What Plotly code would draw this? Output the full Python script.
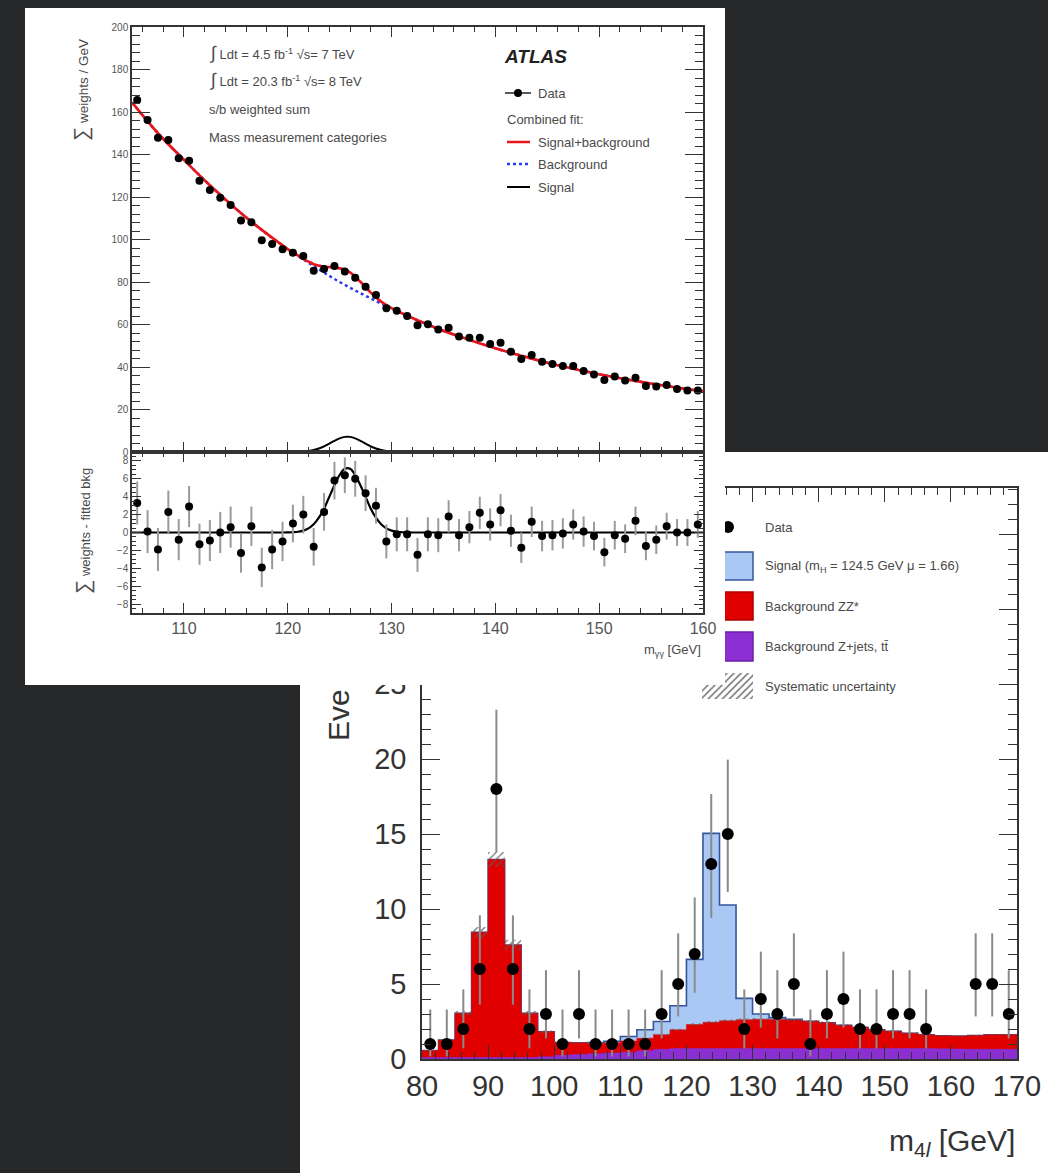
import plotly.graph_objects as go

W, H = 1048, 1173
FONT = "Liberation Sans, Arial, Helvetica, sans-serif"
PAGE_BG = "#262728"
INK = "#333333"
TXT = "#4a4a4a"


def fx(x):
    return x / W


def fy(y):
    return 1 - y / H


# ================= diphoton panel (top card) =================
MGG_CENTERS = [105.5 + i for i in range(55)]
MGG_WEIGHTS = [165.6, 156.2, 147.9, 146.8, 138.2, 137.1, 127.7, 123.3, 119.7, 116.2,
               108.9, 108.1, 99.7, 97.9, 95.4, 93.8, 92.2, 85.3, 86.1, 87.5,
               84.9, 82.0, 77.8, 73.9, 67.6, 66.5, 64.0, 59.7, 60.1, 57.7,
               58.5, 54.3, 53.8, 53.8, 50.8, 51.4, 47.2, 43.8, 45.6, 42.5,
               41.4, 40.5, 40.5, 38.1, 36.5, 33.9, 35.5, 33.6, 35.0, 31.1,
               30.8, 31.5, 29.6, 28.9, 28.9]
MGG_EXCESS = [3.3, 0.1, -1.9, 2.3, -0.8, 2.9, -1.3, -0.9, 0.0, 0.6,
              -2.3, 0.7, -3.9, -1.9, -1.0, 1.0, 2.0, -1.6, 2.3, 5.8,
              6.4, 6.0, 4.4, 3.0, -1.0, -0.2, -0.2, -2.5, -0.2, -0.3,
              1.8, -0.3, 0.6, 2.2, 0.9, 2.5, 0.2, -1.7, 1.2, -0.4,
              -0.3, -0.1, 0.9, 0.1, -0.4, -2.2, -0.3, -0.7, 1.3, -1.5,
              -0.8, 0.7, 0.0, 0.0, 0.9]
MGG_EXCESS_ERR = [2.4, 2.4, 2.4, 2.4, 2.3, 2.3, 2.3, 2.3, 2.3, 2.3, 2.2,
                  2.2, 2.2, 2.2, 2.2, 2.1, 2.1, 2.1, 2.1, 2.1, 2.0, 2.0,
                  2.0, 2.0, 1.9, 1.9, 1.9, 1.9, 1.9, 1.9, 1.8, 1.8, 1.8,
                  1.8, 1.8, 1.8, 1.8, 1.7, 1.7, 1.7, 1.7, 1.7, 1.7, 1.7,
                  1.6, 1.6, 1.6, 1.6, 1.6, 1.6, 1.6, 1.5, 1.5, 1.5, 1.5]

FIT_BKG_X = [105, 107.5, 110, 112.5, 115, 117.5, 120, 122.5, 125, 127.5, 130,
             132.5, 135, 137.5, 140, 142.5, 145, 147.5, 150, 152.5, 155, 157.5, 160]
FIT_BKG_Y = [164.5, 150.0, 137.5, 125.5, 114.5, 104.5, 95.5, 87.5, 80.0, 73.5, 67.5,
             62.0, 57.0, 52.8, 48.8, 45.3, 42.0, 39.2, 36.6, 34.3, 32.2, 30.3, 28.6]

FIT_SB_X = [105, 107.5, 110, 112.5, 115, 117.5, 120,
            120.5, 121, 121.5, 122, 122.5, 123, 123.5, 124, 124.5, 125, 125.5,
            126, 126.5, 127, 127.5, 128, 128.5, 129, 129.5, 130, 130.5, 131,
            132.5, 135, 137.5, 140, 142.5, 145, 147.5, 150, 152.5, 155, 157.5, 160]
FIT_SB_Y = [164.5, 150.0, 137.5, 125.5, 114.5, 104.5, 95.5,
            93.9, 92.4, 90.9, 89.6, 88.4, 87.7, 87.2, 87.0, 86.8, 86.4, 85.8,
            84.5, 82.5, 80.1, 77.5, 75.0, 72.8, 70.8, 69.2, 67.7, 66.5, 65.3,
            62.0, 57.0, 52.8, 48.8, 45.3, 42.0, 39.2, 36.6, 34.3, 32.2, 30.3, 28.6]

FIT_SIG_X = [105, 110, 115, 119.5, 120, 120.5, 121, 121.5, 122, 122.5, 123, 123.5,
             124, 124.5, 125, 125.5, 126, 126.5, 127, 127.5, 128, 128.5, 129,
             129.5, 130, 130.5, 131, 131.5, 132, 136, 140, 150, 160]
FIT_SIG_Y = [0, 0, 0, 0, 0.01, 0.03, 0.08, 0.21, 0.46, 0.92, 1.65, 2.66,
             3.98, 5.28, 6.43, 7.12, 7.12, 6.43, 5.28, 3.98, 2.66, 1.65, 0.92,
             0.46, 0.21, 0.08, 0.03, 0.01, 0, 0, 0, 0, 0]

# ================= four-lepton panel (bottom card) =================
M4L_EDGES = [80 + 2.5 * i for i in range(37)]
M4L_CENTERS = [80 + 2.5 * i + 1.25 for i in range(36)]
M4L_DATA = [1, 1, 2, 6, 18, 6, 2, 3, 1, 3,
            1, 1, 1, 1, 3, 5, 7, 13, 15, 2,
            4, 3, 5, 1, 3, 4, 2, 2, 3, 3,
            2, 0, 0, 5, 5, 3]
M4L_ZJETS = [0.1, 0.1, 0.1, 0.1, 0.1, 0.1, 0.1, 0.15, 0.25, 0.3,
             0.35, 0.4, 0.45, 0.55, 0.65, 0.7, 0.7, 0.7, 0.7, 0.7,
             0.7, 0.7, 0.7, 0.7, 0.7, 0.7, 0.7, 0.7, 0.7, 0.7,
             0.7, 0.68, 0.66, 0.65, 0.65, 0.65]
M4L_ZZ = [0.46, 1.17, 2.95, 8.35, 13.2, 7.5, 2.95, 1.67, 0.85, 0.78,
          0.7, 0.68, 0.75, 0.83, 0.97, 1.25, 1.6, 1.75, 1.85, 1.92,
          1.95, 1.94, 1.9, 1.82, 1.72, 1.55, 1.4, 1.25, 1.15, 1.02,
          0.92, 0.87, 0.87, 0.92, 0.97, 0.97]
M4L_SIGNAL = [0, 0, 0, 0, 0, 0, 0, 0, 0, 0,
              0.05, 0.1, 0.3, 0.57, 0.88, 1.6, 4.34, 12.59, 7.72, 1.42,
              0.35, 0.12, 0.05, 0, 0, 0, 0, 0, 0, 0,
              0, 0, 0, 0, 0, 0]
M4L_SYST = [0.04, 0.08, 0.15, 0.35, 0.5, 0.35, 0.15, 0.08, 0.05, 0.05,
            0.05, 0.05, 0.05, 0.06, 0.06, 0.07, 0.08, 0.08, 0.08, 0.08,
            0.08, 0.08, 0.08, 0.08, 0.08, 0.07, 0.07, 0.06, 0.06, 0.06,
            0.05, 0.05, 0.05, 0.05, 0.05, 0.05]
POISSON_UP = {1: 2.30, 2: 2.64, 3: 2.92, 4: 3.16, 5: 3.38, 6: 3.58, 7: 3.77,
              13: 4.67, 15: 4.96, 18: 5.29}
POISSON_DN = {1: 0.83, 2: 1.29, 3: 1.63, 4: 1.91, 5: 2.16, 6: 2.38, 7: 2.58,
              13: 3.60, 15: 3.87, 18: 4.21}
# y tick labels of the m4l plot (the upper ones sit under the front card)
M4L_YTICKS = [0, 5, 10, 15, 20, 25, 30, 35]
M4L_YTEXT = ["0", "5", "10", "15", "20", "25", "", ""]

C_SIG = "#aac8f4"
C_SIG_LINE = "#34559c"
C_ZZ = "#e00000"
C_ZJ = "#8b2fd2"
HATCH = "rgba(90,90,90,0.85)"

fig = go.Figure()

# ---------- bottom (m4l) plot on xaxis / yaxis ----------
red_top = [a + b for a, b in zip(M4L_ZJETS, M4L_ZZ)]
blue_top = [r + s for r, s in zip(red_top, M4L_SIGNAL)]


def ext(v):
    return list(v) + [v[-1]]


fig.add_trace(go.Scatter(x=M4L_EDGES, y=ext(blue_top), mode="lines", line_shape="hv",
                         fill="tozeroy", fillcolor=C_SIG,
                         line=dict(color=C_SIG_LINE, width=1.6), xaxis="x", yaxis="y",
                         hoverinfo="skip"))
fig.add_trace(go.Scatter(x=M4L_EDGES, y=ext(red_top), mode="lines", line_shape="hv",
                         fill="tozeroy", fillcolor=C_ZZ,
                         line=dict(color=C_ZZ, width=0.5), xaxis="x", yaxis="y",
                         hoverinfo="skip"))
fig.add_trace(go.Scatter(x=M4L_EDGES, y=ext(M4L_ZJETS), mode="lines", line_shape="hv",
                         fill="tozeroy", fillcolor=C_ZJ,
                         line=dict(color=C_ZJ, width=0.5), xaxis="x", yaxis="y",
                         hoverinfo="skip"))
# systematic uncertainty hatching
hx, hy = [], []
for i, (top, u) in enumerate(zip(red_top, M4L_SYST)):
    x0, x1 = M4L_EDGES[i], M4L_EDGES[i + 1]
    hx += [x0, x1, x1, x0, x0, None]
    hy += [top - u, top - u, top + u, top + u, top - u, None]
fig.add_trace(go.Scatter(x=hx, y=hy, mode="lines", fill="toself",
                         fillcolor=HATCH,
                         fillpattern=dict(shape="/", size=5, solidity=0.25),
                         line=dict(width=0), xaxis="x", yaxis="y", hoverinfo="skip"))
# data
dy = [n if n > 0 else None for n in M4L_DATA]
eu = [POISSON_UP.get(n, 0) for n in M4L_DATA]
ed = [POISSON_DN.get(n, 0) for n in M4L_DATA]
fig.add_trace(go.Scatter(x=M4L_CENTERS, y=dy, mode="markers",
                         marker=dict(color="black", size=12),
                         error_y=dict(type="data", symmetric=False, array=eu, arrayminus=ed,
                                      color="#8a8a8a", thickness=2, width=0),
                         xaxis="x", yaxis="y", hoverinfo="skip"))

# ---------- pixel overlay (x2/y2): bottom legend hatch key, then top card ----------
fig.add_trace(go.Scatter(x=[702, 753, 753, 702, 702], y=[673, 673, 699, 699, 673],
                         mode="lines", fill="toself", fillcolor=HATCH,
                         fillpattern=dict(shape="/", size=5, solidity=0.3),
                         line=dict(width=0), xaxis="x2", yaxis="y2", hoverinfo="skip"))
fig.add_trace(go.Scatter(x=[25, 725, 725, 25, 25], y=[8, 8, 685, 685, 8],
                         mode="lines", fill="toself", fillcolor="white",
                         line=dict(width=0, color="white"), xaxis="x2", yaxis="y2",
                         hoverinfo="skip"))

# ---------- diphoton main panel (x3/y3) ----------
fig.add_trace(go.Scatter(x=FIT_SIG_X, y=FIT_SIG_Y, mode="lines", line_shape="spline",
                         line=dict(color="black", width=2), xaxis="x3", yaxis="y3",
                         hoverinfo="skip"))
fig.add_trace(go.Scatter(x=FIT_BKG_X, y=FIT_BKG_Y, mode="lines", line_shape="spline",
                         line=dict(color="#2a3cf0", width=2.5, dash="dot"), xaxis="x3",
                         yaxis="y3", hoverinfo="skip"))
fig.add_trace(go.Scatter(x=FIT_SB_X, y=FIT_SB_Y, mode="lines", line_shape="spline",
                         line=dict(color="#e8161b", width=2.7), xaxis="x3", yaxis="y3",
                         hoverinfo="skip"))
fig.add_trace(go.Scatter(x=MGG_CENTERS, y=MGG_WEIGHTS, mode="markers",
                         marker=dict(color="black", size=8), xaxis="x3", yaxis="y3",
                         hoverinfo="skip"))

# ---------- diphoton ratio panel (x4/y4) ----------
fig.add_trace(go.Scatter(x=FIT_SIG_X, y=FIT_SIG_Y, mode="lines", line_shape="spline",
                         line=dict(color="black", width=2.2), xaxis="x4", yaxis="y4",
                         hoverinfo="skip"))
fig.add_trace(go.Scatter(x=MGG_CENTERS, y=MGG_EXCESS, mode="markers",
                         marker=dict(color="black", size=8),
                         error_y=dict(type="data", array=MGG_EXCESS_ERR, color="#9a9a9a",
                                      thickness=2, width=0),
                         xaxis="x4", yaxis="y4", hoverinfo="skip"))


def axis_common(**kw):
    d = dict(showline=True, linecolor=INK, linewidth=1.5, mirror="ticks",
             ticks="inside", tickcolor=INK, tickwidth=1.2, showgrid=False,
             zeroline=False, fixedrange=True, automargin=False)
    d.update(kw)
    return d


layout = dict(
    template="none",
    width=W, height=H, autosize=False,
    margin=dict(l=0, r=0, t=0, b=0, pad=0, autoexpand=False),
    paper_bgcolor=PAGE_BG, plot_bgcolor="rgba(0,0,0,0)", showlegend=False,
    font=dict(family=FONT, color=TXT),
    # bottom m4l plot
    xaxis=axis_common(domain=[fx(422), fx(1017)], range=[80, 170], anchor="y",
                      dtick=10, tick0=80, ticklen=14,
                      minor=dict(ticks="inside", ticklen=7, dtick=2, tickcolor=INK),
                      tickfont=dict(size=29, color="#333", family=FONT),
                      ticklabelstandoff=0),
    yaxis=axis_common(domain=[fy(1059), fy(488)], range=[0, 38.07], anchor="x",
                      tickmode="array", tickvals=M4L_YTICKS, ticktext=M4L_YTEXT,
                      ticklen=18,
                      minor=dict(ticks="inside", ticklen=9, dtick=1, tickcolor=INK),
                      tickfont=dict(size=29, color="#333", family=FONT),
                      ticklabelstandoff=8),
    # pixel overlay
    xaxis2=dict(domain=[0, 1], range=[0, W], visible=False, anchor="y2",
                fixedrange=True, automargin=False),
    yaxis2=dict(domain=[0, 1], range=[H, 0], visible=False, anchor="x2",
                fixedrange=True, automargin=False),
    # diphoton main
    xaxis3=axis_common(domain=[fx(132), fx(703)], range=[105, 160], anchor="y3",
                       dtick=10, tick0=100, ticklen=10, showticklabels=False,
                       minor=dict(ticks="inside", ticklen=5, dtick=2, tickcolor=INK)),
    yaxis3=axis_common(domain=[fy(452), fy(27)], range=[0, 200], anchor="x3",
                       dtick=20, tick0=0, ticklen=18,
                       minor=dict(ticks="inside", ticklen=8, dtick=4, tickcolor=INK),
                       tickfont=dict(size=10, color="#555", family=FONT)),
    # diphoton ratio
    xaxis4=axis_common(domain=[fx(132), fx(703)], range=[105, 160], anchor="y4",
                       dtick=10, tick0=100, ticklen=10,
                       minor=dict(ticks="inside", ticklen=5, dtick=2, tickcolor=INK),
                       tickfont=dict(size=16, color="#555", family=FONT)),
    yaxis4=axis_common(domain=[fy(613), fy(452)], range=[-9, 9], anchor="x4",
                       dtick=2, tick0=0, ticklen=9,
                       minor=dict(ticks="inside", ticklen=4, dtick=0.5, tickcolor=INK),
                       tickfont=dict(size=10, color="#555", family=FONT)),
)

shapes = [
    # bottom white card (below everything)
    dict(type="rect", xref="paper", yref="paper", x0=fx(300), x1=1, y0=0, y1=fy(452),
         fillcolor="white", line=dict(width=0), layer="below"),
    # bottom legend keys (covered by top card where they overlap)
    dict(type="rect", xref="x2", yref="y2", x0=702, x1=753, y0=552, y1=580,
         fillcolor=C_SIG, line=dict(color=C_SIG_LINE, width=1.5), layer="below"),
    dict(type="rect", xref="x2", yref="y2", x0=702, x1=753, y0=592, y1=620,
         fillcolor=C_ZZ, line=dict(color="#b00000", width=1.5), layer="below"),
    dict(type="rect", xref="x2", yref="y2", x0=702, x1=753, y0=632, y1=661,
         fillcolor=C_ZJ, line=dict(color="#6a1fa8", width=1.5), layer="below"),
    dict(type="circle", xref="x2", yref="y2", x0=722, x1=734, y0=521, y1=533,
         fillcolor="black", line=dict(width=0), layer="below"),
    # top legend keys
    dict(type="line", xref="x2", yref="y2", x0=505, x1=531, y0=93, y1=93,
         line=dict(color="#222", width=1.5), layer="above"),
    dict(type="circle", xref="x2", yref="y2", x0=514, x1=522, y0=89, y1=97,
         fillcolor="black", line=dict(width=0), layer="above"),
    dict(type="line", xref="x2", yref="y2", x0=507, x1=530, y0=142, y1=142,
         line=dict(color="#e8161b", width=2.5), layer="above"),
    dict(type="line", xref="x2", yref="y2", x0=507, x1=530, y0=164, y1=164,
         line=dict(color="#2a3cf0", width=2.5, dash="dot"), layer="above"),
    dict(type="line", xref="x2", yref="y2", x0=507, x1=530, y0=187, y1=187,
         line=dict(color="black", width=2), layer="above"),
]
layout["shapes"] = shapes


def ann(text, x, y, size=13, color=TXT, xanchor="left", yanchor="middle", angle=0):
    return dict(text=text, x=fx(x), y=fy(y), xref="paper", yref="paper",
                xanchor=xanchor, yanchor=yanchor, showarrow=False, textangle=angle,
                font=dict(size=size, color=color, family=FONT))


annotations = [
    ann("<span style='font-size:18px'>∫</span> Ldt = 4.5 fb<sup>-1</sup> √s= 7 TeV", 207, 53, 13),
    ann("<span style='font-size:18px'>∫</span> Ldt = 20.3 fb<sup>-1</sup> √s= 8 TeV", 207, 80, 13),
    ann("s/b weighted sum", 207, 109, 13),
    ann("Mass measurement categories", 207, 137, 13),
    ann("<b><i>ATLAS</i></b>", 502, 57, 19, color="#222"),
    ann("Data", 536, 93, 13),
    ann("Combined fit:", 505, 119, 13),
    ann("Signal+background", 536, 142, 13),
    ann("Background", 536, 164, 13),
    ann("Signal", 536, 187, 13),
    ann("<span style='font-size:20px'>∑</span> weights / GeV", 82, 90, 13.5,
        xanchor="center", angle=-90),
    ann("<span style='font-size:20px'>∑</span> weights - fitted bkg", 83, 531, 13,
        xanchor="center", angle=-90),
    ann("m<sub>γγ</sub> [GeV]", 703, 650, 13, xanchor="right"),
    # bottom card
    ann("Data", 763, 527, 13),
    ann("Signal (m<sub>H</sub> = 124.5 GeV μ = 1.66)", 763, 566, 13),
    ann("Background ZZ*", 763, 606, 13),
    ann("Background Z+jets, tt\u0304", 763, 646, 13),
    ann("Systematic uncertainty", 763, 686, 13),
    ann("m<sub>4<i>l</i></sub> [GeV]", 1017, 1142, 30, color="#333", xanchor="right"),
    ann("Eve", 338, 715, 30, color="#333", xanchor="center", angle=-90),
]
layout["annotations"] = annotations

fig.update_layout(**layout)
fig.write_html("out.html")
